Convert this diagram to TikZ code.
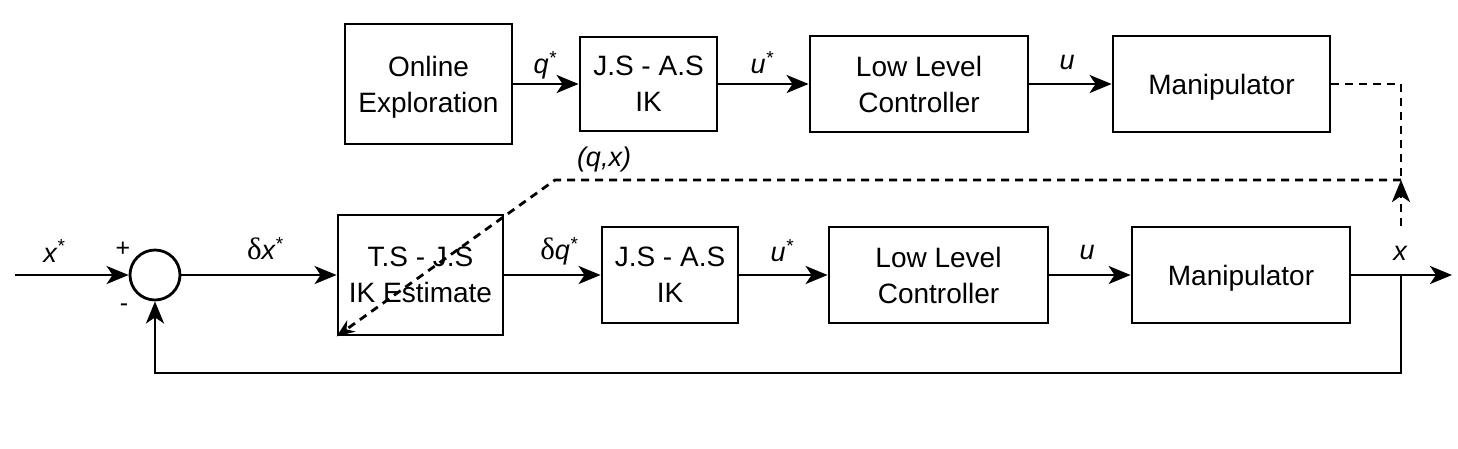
\documentclass[tikz,border=0pt]{standalone}
\usepackage{fontspec}
\setmainfont{Liberation Sans}
\newfontfamily\grk{Liberation Serif}
\usetikzlibrary{arrows.meta}
\begin{document}
\begin{tikzpicture}[x=1pt,y=-1pt, line width=2.8pt,
  blk/.style={draw, line width=2.8pt, align=center, inner sep=0pt, text depth=0pt,
    font=\fontsize{28}{36}\selectfont},
  lbl/.style={font=\fontsize{27}{30}\selectfont\itshape, inner sep=0pt},
  sgn/.style={font=\fontsize{25}{28}\selectfont, inner sep=0pt},
  arr/.style={-{Stealth[length=22pt,width=18pt,inset=6pt]}},
  dsh/.style={dash pattern=on 8pt off 6pt}]
\useasboundingbox (0,0) rectangle (1458,448);
% top row
\node[blk, minimum width=167pt, minimum height=120pt] (oe) at (428.5,84) {Online\\Exploration};
\node[blk, minimum width=137pt, minimum height=94pt] (jst) at (648.5,84) {J.S - A.S\\IK};
\node[blk, minimum width=218pt, minimum height=96pt] (llct) at (919,84) {Low Level\\Controller};
\node[blk, minimum width=217pt, minimum height=96pt] (mant) at (1221.5,84) {Manipulator};
% bottom row
\node[draw, circle, minimum size=50pt, inner sep=0pt] (sum) at (155,275) {};
\node[blk, minimum width=165pt, minimum height=120pt] (ts) at (420.5,275) {T.S - J.S\\IK Estimate};
\node[blk, minimum width=136pt, minimum height=96pt] (jsb) at (670,275) {J.S - A.S\\IK};
\node[blk, minimum width=219pt, minimum height=96pt] (llcb) at (938.5,275) {Low Level\\Controller};
\node[blk, minimum width=218pt, minimum height=96pt] (manb) at (1241,275) {Manipulator};
% coordinates
\coordinate (in) at (15,275);
\coordinate (out) at (1452,275);
\coordinate (tap) at (1401,275);
\coordinate (fb) at (1401,373);
\coordinate (jn) at (1401,180);
\coordinate (xs) at (1401,226);
\coordinate (bend) at (555,180);
% top connectors
\draw[arr] (oe) -- (jst);
\draw[arr] (jst) -- (llct);
\draw[arr] (llct) -- (mant);
% bottom connectors
\draw[arr] (in) -- (sum.west);
\draw[arr] (sum.east) -- (ts.west);
\draw[arr] (ts) -- (jsb);
\draw[arr] (jsb) -- (llcb);
\draw[arr] (llcb) -- (manb);
\draw[arr] (manb.east) -- (out);
\draw[arr] (tap) -- (fb) -| (sum.south);
% dashed
\draw[dsh] (mant.east) -| (jn);
\draw[dsh, arr] (xs) -- (jn);
\draw[dsh, -{Stealth[length=18pt,width=14pt,open]}] (jn) -- (bend) -- (ts.south west);
% labels
\node[lbl] (lq1) at (545,65) {q\textsuperscript{*}};
\node[lbl] (lu1) at (762,63) {u\textsuperscript{*}};
\node[lbl] (lu2) at (1067,62) {u};
\node[lbl] (lqx) at (604,160) {(q,x)};
\node[lbl] (lx0) at (54,251) {x\textsuperscript{*}};
\node[sgn] (lp) at (123,249) {+};
\node[sgn] (lm) at (124,308) {-};
\node[lbl] (ldx) at (265,249) {{\upshape\grk\fontsize{31}{31}\selectfont δ}x\textsuperscript{*}};
\node[lbl] (ldq) at (559,251) {{\upshape\grk\fontsize{31}{31}\selectfont δ}q\textsuperscript{*}};
\node[lbl] (lu3) at (782,251) {u\textsuperscript{*}};
\node[lbl] (lu4) at (1087,252) {u};
\node[lbl] (lx) at (1400,253) {x};
\end{tikzpicture}
\end{document}
